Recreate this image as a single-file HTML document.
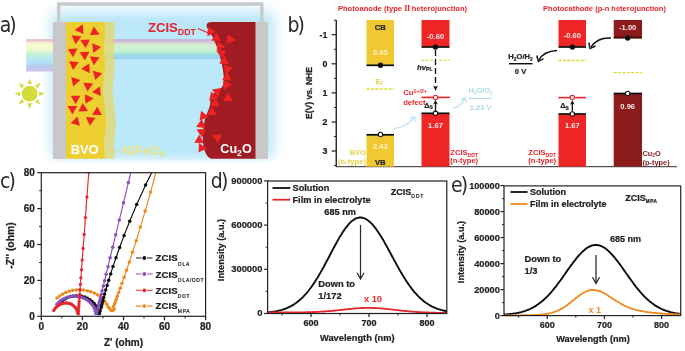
<!DOCTYPE html>
<html><head><meta charset="utf-8"><title>Figure</title>
<style>
html,body{margin:0;padding:0;background:#fff;}
body{width:685px;height:351px;overflow:hidden;}
svg{display:block;font-family:"Liberation Sans", "DejaVu Sans", sans-serif;}
.b{font-weight:bold;}
text[fill="#222"]{stroke:#222;stroke-width:0.22px;}
.lbl{font-family:"DejaVu Sans Condensed","DejaVu Sans","Liberation Sans",sans-serif;font-stretch:condensed;font-size:21px;fill:#2a2a2a;}
</style></head><body>
<svg width="685" height="351" viewBox="0 0 685 351">
<defs>
<linearGradient id="rain" x1="0" y1="0" x2="0" y2="1">
<stop offset="0" stop-color="#e8b4c4"/><stop offset="0.05" stop-color="#eec4c8"/>
<stop offset="0.1" stop-color="#f4ecd4"/><stop offset="0.2" stop-color="#f4fcd2"/>
<stop offset="0.33" stop-color="#eef8ce"/><stop offset="0.44" stop-color="#c8f0d2"/>
<stop offset="0.56" stop-color="#baecea"/><stop offset="0.68" stop-color="#b6e4f4"/>
<stop offset="0.83" stop-color="#b8ccf0"/><stop offset="1" stop-color="#cec2ec"/></linearGradient>
<linearGradient id="rain2" x1="0" y1="0" x2="0" y2="1">
<stop offset="0" stop-color="#c8b2d6"/><stop offset="0.1" stop-color="#ceb8d8"/>
<stop offset="0.25" stop-color="#d6e8d4"/><stop offset="0.36" stop-color="#d2f0d0"/>
<stop offset="0.6" stop-color="#c4eed2"/><stop offset="0.73" stop-color="#9ee4dc"/>
<stop offset="0.86" stop-color="#9ad6ee"/><stop offset="0.97" stop-color="#9ed4f2"/>
<stop offset="1" stop-color="#acdef6"/></linearGradient>
<linearGradient id="fadeW" x1="0" y1="0" x2="0" y2="1"><stop offset="0" stop-color="#fff" stop-opacity="0"/><stop offset="0.35" stop-color="#fff" stop-opacity="1"/><stop offset="1" stop-color="#fff" stop-opacity="1"/></linearGradient>
<filter id="glow" x="-20%" y="-20%" width="140%" height="140%"><feGaussianBlur stdDeviation="7"/></filter>
<filter id="glow2" x="-20%" y="-20%" width="140%" height="140%"><feGaussianBlur stdDeviation="6"/></filter>
<filter id="soft"><feGaussianBlur stdDeviation="0.4"/></filter>
<marker id="ahk" viewBox="0 0 10 10" refX="5" refY="5" markerUnits="userSpaceOnUse" markerWidth="4.6" markerHeight="4.6" orient="auto-start-reverse"><path d="M0,0 L10,5 L0,10 L3,5 z" fill="#111"/></marker>
</defs>
<rect width="685" height="351" fill="#fff"/>
<g filter="url(#soft)">

<g id="pa">
<rect x="51.5" y="11" width="222.5" height="148" rx="8" fill="#b8e6f8" filter="url(#glow)"/>
<rect x="60" y="30" width="202" height="124" fill="#bce9fa" filter="url(#glow2)"/>
<rect x="28" y="158.3" width="266" height="18" fill="url(#fadeW)"/>
<path d="M58.7,23 V4 H261.8 V23" fill="none" stroke="#cacaca" stroke-width="3.3"/>
<rect x="26.2" y="39.2" width="28" height="32.3" fill="url(#rain)"/>
<rect x="105" y="39.1" width="118" height="20.3" fill="url(#rain2)"/>
<rect x="53" y="22" width="13.5" height="136.8" fill="#c8c8c8"/>
<path d="M66,22 H104.7 C106.7,35 102.7,45 104.7,58 C106.7,72 101.7,85 103.7,98 C105.7,112 107.7,125 104.7,138 C103.7,146 105.7,152 104.7,158.8 H66 Z" fill="#eecf30"/>
<path d="M104.7,22 H114.2 C116.2,35 112.2,45 114.2,58 C116.2,72 111.2,85 113.2,98 C115.2,112 117.2,125 114.2,138 C113.2,146 115.2,152 114.2,158.8 H104.7 C105.7,152 103.7,146 104.7,138 C107.7,125 105.7,112 103.7,98 C101.7,85 106.7,72 104.7,58 C102.7,45 106.7,35 104.7,22 Z" fill="#e4d96c" fill-opacity="0.78"/>
<rect x="254" y="22" width="14" height="136.8" fill="#c8c8c8"/>
<path d="M255.5,22 H212 Q205.5,22 206.8,27 L212.6,37 L217,47 C219,52 221,60 222.6,68 C223.5,74 224.5,80 223.5,84 C222,89 217,91 213,94 C210,98 211,102 209.5,107 C208,112 204.8,117 204.2,123 C203.2,128 202.6,133 202.7,137 C203,143 203.6,150 206.7,155 C208.5,157.6 210,158.8 212,158.8 H255.5 Z" fill="#a01f20"/>
<polygon points="74.7,29.9 82.7,24.3 83.5,34.0" fill="#ee2222"/>
<polygon points="93.9,26.5 99.5,34.5 89.8,35.3" fill="#ee2222"/>
<polygon points="75.5,44.3 71.7,35.3 81.4,36.5" fill="#ee2222"/>
<polygon points="85.7,48.1 80.3,40.0 89.9,39.4" fill="#ee2222"/>
<polygon points="101.1,47.1 93.3,53.0 92.1,43.3" fill="#ee2222"/>
<polygon points="73.0,57.2 67.9,49.0 77.5,48.6" fill="#ee2222"/>
<polygon points="84.9,60.4 79.6,52.3 89.3,51.8" fill="#ee2222"/>
<polygon points="93.9,65.2 89.8,56.4 99.5,57.2" fill="#ee2222"/>
<polygon points="73.1,70.1 69.0,61.3 78.7,62.1" fill="#ee2222"/>
<polygon points="81.1,68.7 89.3,63.6 89.7,73.2" fill="#ee2222"/>
<polygon points="95.4,80.1 92.8,70.7 102.2,73.3" fill="#ee2222"/>
<polygon points="80.4,79.9 73.2,86.4 71.2,76.9" fill="#ee2222"/>
<polygon points="87.5,91.6 83.4,82.8 93.1,83.6" fill="#ee2222"/>
<polygon points="92.0,92.0 100.0,86.4 100.8,96.1" fill="#ee2222"/>
<polygon points="75.6,104.2 70.8,95.8 80.4,95.8" fill="#ee2222"/>
<polygon points="93.6,98.4 85.5,103.8 84.9,94.2" fill="#ee2222"/>
<polygon points="72.4,114.4 67.6,106.0 77.2,106.0" fill="#ee2222"/>
<polygon points="82.6,102.9 88.0,111.0 78.4,111.6" fill="#ee2222"/>
<polygon points="97.1,106.6 101.9,115.0 92.3,115.0" fill="#ee2222"/>
<polygon points="70.6,123.2 77.5,116.4 79.9,125.8" fill="#ee2222"/>
<polygon points="89.9,125.8 85.8,117.0 95.5,117.8" fill="#ee2222"/>
<polygon points="216.0,31.9 207.4,36.3 207.9,26.6" fill="#ee2222"/>
<polygon points="216.7,32.4 220.9,41.1 211.3,40.5" fill="#ee2222"/>
<polygon points="235.6,40.0 226.8,44.1 227.6,34.4" fill="#ee2222"/>
<polygon points="225.4,47.1 216.5,50.7 217.8,41.1" fill="#ee2222"/>
<polygon points="222.4,58.5 216.3,51.0 225.9,49.5" fill="#ee2222"/>
<polygon points="224.8,55.7 228.7,64.6 219.1,63.6" fill="#ee2222"/>
<polygon points="232.9,67.8 225.7,74.3 223.7,64.8" fill="#ee2222"/>
<polygon points="227.2,71.9 231.7,80.5 222.1,80.1" fill="#ee2222"/>
<polygon points="231.8,84.3 223.8,89.9 223.0,80.2" fill="#ee2222"/>
<polygon points="218.1,97.0 211.8,89.6 221.4,87.9" fill="#ee2222"/>
<polygon points="228.2,92.6 232.7,101.2 223.1,100.8" fill="#ee2222"/>
<polygon points="218.3,98.0 209.1,101.0 211.1,91.5" fill="#ee2222"/>
<polygon points="215.5,97.9 219.6,106.7 209.9,105.9" fill="#ee2222"/>
<polygon points="212.3,106.7 216.7,115.3 207.0,114.8" fill="#ee2222"/>
<polygon points="208.6,116.9 199.6,120.4 201.1,110.8" fill="#ee2222"/>
<polygon points="201.7,119.1 205.8,127.9 196.1,127.1" fill="#ee2222"/>
<polygon points="202.0,137.5 196.4,129.5 206.1,128.7" fill="#ee2222"/>
<polygon points="199.4,134.6 203.9,143.2 194.3,142.8" fill="#ee2222"/>
<polygon points="207.1,148.2 198.5,152.6 199.0,142.9" fill="#ee2222"/>
<polygon points="218.0,143.1 212.3,135.2 221.9,134.2" fill="#ee2222"/>
<circle cx="29.6" cy="93.7" r="7.9" fill="#d4dc3e"/>
<polygon points="39.2,96.0 39.2,91.4 44.8,93.7" fill="#d4dc3e"/>
<polygon points="34.8,102.1 38.0,98.9 40.3,104.4" fill="#d4dc3e"/>
<polygon points="27.3,103.3 31.9,103.3 29.6,108.9" fill="#d4dc3e"/>
<polygon points="21.2,98.9 24.4,102.1 18.9,104.4" fill="#d4dc3e"/>
<polygon points="20.0,91.4 20.0,96.0 14.4,93.7" fill="#d4dc3e"/>
<polygon points="24.4,85.3 21.2,88.5 18.9,83.0" fill="#d4dc3e"/>
<polygon points="31.9,84.1 27.3,84.1 29.6,78.5" fill="#d4dc3e"/>
<polygon points="38.0,88.5 34.8,85.3 40.3,83.0" fill="#d4dc3e"/>
<text x="148" y="32.2" class="b" font-size="13.1" fill="#e8202a">ZCIS<tspan font-size="8.8" dy="2.6">DDT</tspan></text>
<path d="M198,28.6 L208.5,33" stroke="#e8202a" stroke-width="1.1" fill="none"/>
<text x="70.7" y="154.2" class="b" font-size="12.9" fill="#fff">BVO</text>
<text x="121.9" y="154.6" class="b" font-size="12.8" fill="#eae086">NiFeO<tspan font-size="8.8" dy="2.6">X</tspan></text>
<path d="M109.8,154 L120.5,150.5" stroke="#d6dc8c" stroke-width="1.1" fill="none"/>
<text x="220.3" y="153" class="b" font-size="12.6" fill="#fff">Cu<tspan font-size="8.6" dy="2.6">2</tspan><tspan dy="-2.6">O</tspan></text>
<text x="-0.3" y="31.8" class="lbl" letter-spacing="-2">a)</text>
</g>
<g id="pb">
<text x="287.5" y="32" class="lbl" letter-spacing="-2">b)</text>
<path d="M336.3,20 V166.6 H677" fill="none" stroke="#555" stroke-width="1.1"/>
<path d="M336.3,20 V166.6" fill="none" stroke="#222" stroke-width="1.2"/>
<path d="M331.6,34.7 H336.3" stroke="#222" stroke-width="1.2"/>
<text x="327.4" y="37.6" text-anchor="end" class="b" font-size="8.8" fill="#222">-1</text>
<path d="M331.6,63.8 H336.3" stroke="#222" stroke-width="1.2"/>
<text x="327.4" y="66.7" text-anchor="end" class="b" font-size="8.8" fill="#222">0</text>
<path d="M331.6,92.9 H336.3" stroke="#222" stroke-width="1.2"/>
<text x="327.4" y="95.8" text-anchor="end" class="b" font-size="8.8" fill="#222">1</text>
<path d="M331.6,122.0 H336.3" stroke="#222" stroke-width="1.2"/>
<text x="327.4" y="124.9" text-anchor="end" class="b" font-size="8.8" fill="#222">2</text>
<path d="M331.6,151.0 H336.3" stroke="#222" stroke-width="1.2"/>
<text x="327.4" y="153.9" text-anchor="end" class="b" font-size="8.8" fill="#222">3</text>
<path d="M333.9,20.2 H336.3" stroke="#222" stroke-width="1"/>
<path d="M333.9,49.3 H336.3" stroke="#222" stroke-width="1"/>
<path d="M333.9,78.3 H336.3" stroke="#222" stroke-width="1"/>
<path d="M333.9,107.4 H336.3" stroke="#222" stroke-width="1"/>
<path d="M333.9,136.5 H336.3" stroke="#222" stroke-width="1"/>
<path d="M333.9,165.6 H336.3" stroke="#222" stroke-width="1"/>
<text transform="translate(312.3,93) rotate(-90)" text-anchor="middle" class="b" font-size="8.6" fill="#222" stroke="#222" stroke-width="0.2">E(V) vs. NHE</text>
<text x="402.5" y="10.6" text-anchor="middle" class="b" font-size="7.6" fill="#e3262c">Photoanode (type <tspan font-family="Liberation Serif,serif" font-size="8.2" letter-spacing="-0.4">II</tspan> heterojunction)</text>
<text x="604.5" y="10.6" text-anchor="middle" class="b" font-size="7.5" fill="#e3262c">Photocathode (p-n heterojunction)</text>
<rect x="366.5" y="20" width="27.5" height="45" fill="#f0c930"/>
<rect x="366.5" y="135" width="27.5" height="31.599999999999994" fill="#f0c930"/>
<path d="M366.5,65.3 H394" stroke="#111" stroke-width="1.7"/>
<circle cx="380.5" cy="65.3" r="2.7" fill="#111"/>
<path d="M366.5,134.8 H394" stroke="#111" stroke-width="1.7"/>
<circle cx="380.5" cy="134.5" r="2.2" fill="#fff" stroke="#111" stroke-width="1.1"/>
<text x="380.3" y="29.8" text-anchor="middle" class="b" font-size="7.6" fill="#222">CB</text>
<text x="380.3" y="54.8" text-anchor="middle" class="b" font-size="7.6" fill="#fbf3c8">0.05</text>
<text x="380.3" y="149" text-anchor="middle" class="b" font-size="7.6" fill="#fbf3c8">2.43</text>
<text x="380.3" y="164.5" text-anchor="middle" class="b" font-size="7.6" fill="#222">VB</text>
<text x="379" y="83.6" text-anchor="middle" class="b" font-size="7.4" fill="#e4cb3c">E<tspan font-size="5" dy="1.5">f</tspan></text>
<path d="M366.5,89 H394" stroke="#dcdc34" stroke-width="1.3" stroke-dasharray="3,1.4"/>
<text x="365.6" y="154.5" text-anchor="end" class="b" font-size="7.3" fill="#e8d244">BVO</text>
<text x="366" y="163.6" text-anchor="end" class="b" font-size="7.7" fill="#e8d244">(n-type)</text>
<rect x="421.5" y="20" width="28" height="27" fill="#ee2828"/>
<rect x="421.5" y="113.3" width="28" height="53.3" fill="#ee2828"/>
<path d="M421.5,47 H449.5" stroke="#111" stroke-width="1.7"/>
<circle cx="435.5" cy="47" r="2.7" fill="#111"/>
<text x="435.5" y="38.5" text-anchor="middle" class="b" font-size="7.6" fill="#fde8e8">-0.60</text>
<path d="M421.5,60.4 H449.5" stroke="#dcdc34" stroke-width="1.3" stroke-dasharray="3,1.4"/>
<rect x="433" y="57" width="5" height="6" fill="#fff"/>
<path d="M435.5,50 V86" stroke="#111" stroke-width="1.3" stroke-dasharray="6,3"/><path d="M433.2,85.6 L435.5,91 L437.8,85.6 L435.5,86.8 Z" fill="#111"/>
<text x="417" y="69.6" class="b" font-size="7.8" fill="#222" font-style="italic">hv<tspan font-size="5" dy="1.5" font-style="normal">PL</tspan></text>
<path d="M421.5,97.4 H450" stroke="#e3262c" stroke-width="1.6"/>
<circle cx="435.5" cy="97.4" r="2.2" fill="#fff" stroke="#e3262c" stroke-width="1.1"/>
<text x="403.2" y="95.3" class="b" font-size="7.8" fill="#e3262c">Cu<tspan font-size="5.2" dy="-2.6">1+/2+</tspan></text>
<text x="403.2" y="105" class="b" font-size="7.6" fill="#e3262c">defect</text>
<text x="424.3" y="107.8" class="b" font-size="7.4" fill="#222">Δ<tspan font-size="5" dy="1.5">S</tspan></text>
<path d="M435.5,111 V102.3" stroke="#111" stroke-width="1.3" marker-end="url(#ahk)"/>
<path d="M421.5,113.3 H449.5" stroke="#111" stroke-width="1.7"/>
<circle cx="435.5" cy="113.3" r="2.2" fill="#fff" stroke="#111" stroke-width="1.1"/>
<text x="435.5" y="127.8" text-anchor="middle" class="b" font-size="7.6" fill="#fde8e8">1.67</text>
<text x="450.3" y="155" class="b" font-size="7.6" fill="#e3262c">ZCIS<tspan font-size="5" dy="1.5">DDT</tspan></text>
<text x="450.3" y="163.4" class="b" font-size="7.6" fill="#e3262c">(n-type)</text>
<path d="M393.5,128.5 C401,128 408.5,124.5 413.6,118" stroke="#b9dff0" stroke-width="1.2" fill="none"/>
<path d="M409.6,118.8 L414.4,116.6 L415.2,121.8" stroke="#b9dff0" stroke-width="1.2" fill="none"/>
<path d="M452.8,108 C458.5,107.3 462.5,103.5 464.3,99" stroke="#b9dff0" stroke-width="1.2" fill="none"/>
<path d="M460.5,100.6 L465,97.4 L466.6,102.6" stroke="#b9dff0" stroke-width="1.2" fill="none"/>
<text x="480.7" y="93" text-anchor="middle" class="b" font-size="7.5" fill="#b2d8ea">H<tspan font-size="4.6" dy="1.5">2</tspan><tspan dy="-1.5">O/O</tspan><tspan font-size="4.6" dy="1.5">2</tspan></text>
<path d="M468.6,98.4 H491.6" stroke="#b2d8ea" stroke-width="1.2"/>
<text x="480.7" y="109.8" text-anchor="middle" class="b" font-size="7.5" fill="#b2d8ea">1.23 V</text>
<rect x="558.5" y="20" width="27.5" height="27" fill="#ee2828"/>
<rect x="558.5" y="114" width="27.5" height="52.599999999999994" fill="#ee2828"/>
<path d="M558.5,47 H586" stroke="#111" stroke-width="1.7"/>
<circle cx="572.4" cy="47" r="2.7" fill="#111"/>
<text x="572.3" y="37.8" text-anchor="middle" class="b" font-size="7.6" fill="#fde8e8">-0.60</text>
<path d="M558.5,60.5 H586" stroke="#dcdc34" stroke-width="1.3" stroke-dasharray="3,1.4"/>
<path d="M558.5,97.6 H586" stroke="#e3262c" stroke-width="1.6"/>
<circle cx="572.3" cy="97.6" r="2.2" fill="#fff" stroke="#e3262c" stroke-width="1.1"/>
<text x="560.3" y="108" class="b" font-size="7.4" fill="#222">Δ<tspan font-size="5" dy="1.5">S</tspan></text>
<path d="M572.3,111.5 V102.5" stroke="#111" stroke-width="1.3" marker-end="url(#ahk)"/>
<path d="M558.5,114 H586" stroke="#111" stroke-width="1.7"/>
<circle cx="572.3" cy="114" r="2.2" fill="#fff" stroke="#111" stroke-width="1.1"/>
<text x="572.3" y="127.5" text-anchor="middle" class="b" font-size="7.6" fill="#fde8e8">1.67</text>
<text x="528.3" y="155" class="b" font-size="7.6" fill="#e3262c">ZCIS<tspan font-size="5" dy="1.5">DDT</tspan></text>
<text x="528.3" y="163.4" class="b" font-size="7.6" fill="#e3262c">(n-type)</text>
<text x="520.5" y="59" text-anchor="middle" class="b" font-size="7.6" fill="#222">H<tspan font-size="4.8" dy="1.5">2</tspan><tspan dy="-1.5">O/H</tspan><tspan font-size="4.8" dy="1.5">2</tspan></text>
<path d="M509,63.7 H532.5" stroke="#111" stroke-width="1.4"/>
<text x="520.5" y="74" text-anchor="middle" class="b" font-size="7.6" fill="#222">0 V</text>
<path d="M557,50.5 C548,51 542,54 539,60" stroke="#111" stroke-width="1.4" fill="none"/>
<path d="M536.8,55.5 L538.3,61.5 L543.5,58.6" stroke="#111" stroke-width="1.4" fill="none"/>
<path d="M611,38 C602,37.5 595,41 591,47" stroke="#111" stroke-width="1.4" fill="none"/>
<path d="M588.8,42.5 L590,48.6 L595.5,46" stroke="#111" stroke-width="1.4" fill="none"/>
<rect x="613.7" y="20" width="28.3" height="17.5" fill="#8c1a1a"/>
<rect x="613.7" y="93.5" width="28.3" height="73.1" fill="#8c1a1a"/>
<path d="M613.7,37.7 H642" stroke="#3a0808" stroke-width="1.7"/>
<circle cx="627.7" cy="38" r="2.7" fill="#111"/>
<text x="627.7" y="30" text-anchor="middle" class="b" font-size="7.6" fill="#fde8e8">-1.00</text>
<path d="M613.7,72.6 H642" stroke="#dcdc34" stroke-width="1.3" stroke-dasharray="3,1.4"/>
<path d="M613.7,93.5 H642" stroke="#111" stroke-width="1.7"/>
<circle cx="627.7" cy="93.5" r="2.2" fill="#fff" stroke="#111" stroke-width="1.1"/>
<text x="627.7" y="108.5" text-anchor="middle" class="b" font-size="7.6" fill="#fde8e8">0.96</text>
<text x="642.5" y="155.5" class="b" font-size="7.4" fill="#8c1a1a">Cu<tspan font-size="4.8" dy="1.5">2</tspan><tspan dy="-1.5">O</tspan></text>
<text x="642.5" y="164.6" class="b" font-size="7.4" fill="#8c1a1a">(p-type)</text>
</g>
<g id="pc">
<text x="0" y="187.8" class="lbl" letter-spacing="-1.8">c)</text>
<clipPath id="clipc"><rect x="41.3" y="172.7" width="164.3" height="143.60000000000002"/></clipPath>
<g clip-path="url(#clipc)">
<path d="M56.9,298.0 L59.6,295.9 L62.6,294.0 L65.8,292.4 L69.2,291.2 L72.7,290.3 L76.4,289.9 L80.1,289.7 L83.7,290.0 L87.4,290.7 L90.8,291.7 L94.2,293.0 L97.3,294.7 L100.2,296.7 L102.7,299.0 L104.9,301.6 L106.8,304.3 L108.3,307.2 L109.7,308.6 L111.1,310.4 L112.8,310.6 L114.2,309.1 L113.4,306.8 L114.5,304.1 L115.3,301.9 L116.2,299.3 L117.3,296.2 L118.7,292.6 L120.2,288.3 L122.0,283.3 L124.1,277.3 L126.5,270.3 L129.3,262.0 L132.5,252.2 L136.2,240.7 L140.4,227.1 L145.2,211.0 L150.6,192.1 L156.6,169.7 L163.0,143.3" fill="none" stroke="#ee8a1e" stroke-width="1.15"/><circle cx="56.9" cy="298.0" r="1.75" fill="#ee8a1e"/><circle cx="59.6" cy="295.9" r="1.75" fill="#ee8a1e"/><circle cx="62.6" cy="294.0" r="1.75" fill="#ee8a1e"/><circle cx="65.8" cy="292.4" r="1.75" fill="#ee8a1e"/><circle cx="69.2" cy="291.2" r="1.75" fill="#ee8a1e"/><circle cx="72.7" cy="290.3" r="1.75" fill="#ee8a1e"/><circle cx="76.4" cy="289.9" r="1.75" fill="#ee8a1e"/><circle cx="80.1" cy="289.7" r="1.75" fill="#ee8a1e"/><circle cx="83.7" cy="290.0" r="1.75" fill="#ee8a1e"/><circle cx="87.4" cy="290.7" r="1.75" fill="#ee8a1e"/><circle cx="90.8" cy="291.7" r="1.75" fill="#ee8a1e"/><circle cx="94.2" cy="293.0" r="1.75" fill="#ee8a1e"/><circle cx="97.3" cy="294.7" r="1.75" fill="#ee8a1e"/><circle cx="100.2" cy="296.7" r="1.75" fill="#ee8a1e"/><circle cx="102.7" cy="299.0" r="1.75" fill="#ee8a1e"/><circle cx="104.9" cy="301.6" r="1.75" fill="#ee8a1e"/><circle cx="106.8" cy="304.3" r="1.75" fill="#ee8a1e"/><circle cx="108.3" cy="307.2" r="1.75" fill="#ee8a1e"/><circle cx="109.7" cy="308.6" r="1.75" fill="#ee8a1e"/><circle cx="111.1" cy="310.4" r="1.75" fill="#ee8a1e"/><circle cx="112.8" cy="310.6" r="1.75" fill="#ee8a1e"/><circle cx="114.2" cy="309.1" r="1.75" fill="#ee8a1e"/><circle cx="113.4" cy="306.8" r="1.75" fill="#ee8a1e"/><circle cx="114.5" cy="304.1" r="1.75" fill="#ee8a1e"/><circle cx="115.3" cy="301.9" r="1.75" fill="#ee8a1e"/><circle cx="116.2" cy="299.3" r="1.75" fill="#ee8a1e"/><circle cx="117.3" cy="296.2" r="1.75" fill="#ee8a1e"/><circle cx="118.7" cy="292.6" r="1.75" fill="#ee8a1e"/><circle cx="120.2" cy="288.3" r="1.75" fill="#ee8a1e"/><circle cx="122.0" cy="283.3" r="1.75" fill="#ee8a1e"/><circle cx="124.1" cy="277.3" r="1.75" fill="#ee8a1e"/><circle cx="126.5" cy="270.3" r="1.75" fill="#ee8a1e"/><circle cx="129.3" cy="262.0" r="1.75" fill="#ee8a1e"/><circle cx="132.5" cy="252.2" r="1.75" fill="#ee8a1e"/><circle cx="136.2" cy="240.7" r="1.75" fill="#ee8a1e"/><circle cx="140.4" cy="227.1" r="1.75" fill="#ee8a1e"/><circle cx="145.2" cy="211.0" r="1.75" fill="#ee8a1e"/><circle cx="150.6" cy="192.1" r="1.75" fill="#ee8a1e"/><circle cx="156.6" cy="169.7" r="1.75" fill="#ee8a1e"/><circle cx="163.0" cy="143.3" r="1.75" fill="#ee8a1e"/>
<path d="M58.8,304.6 L60.6,302.4 L62.7,300.5 L65.1,298.9 L67.6,297.6 L70.4,296.6 L73.2,295.9 L76.1,295.7 L79.0,295.8 L81.9,296.2 L84.7,297.0 L87.4,298.2 L89.9,299.7 L92.1,301.4 L94.1,303.5 L95.7,305.7 L97.0,308.2 L98.0,310.8 L98.6,313.5 L99.5,313.6 L100.1,310.9 L100.9,308.0 L101.3,306.4 L101.8,304.6 L102.3,302.6 L102.9,300.2 L103.7,297.4 L104.6,294.0 L105.7,290.1 L107.1,285.6 L108.7,280.2 L110.7,273.9 L113.0,266.4 L116.0,257.7 L119.6,247.5 L124.1,235.4 L129.7,221.3 L136.7,204.6 L145.6,185.1 L156.9,162.1" fill="none" stroke="#111" stroke-width="1.15"/><circle cx="58.8" cy="304.6" r="1.75" fill="#111"/><circle cx="60.6" cy="302.4" r="1.75" fill="#111"/><circle cx="62.7" cy="300.5" r="1.75" fill="#111"/><circle cx="65.1" cy="298.9" r="1.75" fill="#111"/><circle cx="67.6" cy="297.6" r="1.75" fill="#111"/><circle cx="70.4" cy="296.6" r="1.75" fill="#111"/><circle cx="73.2" cy="295.9" r="1.75" fill="#111"/><circle cx="76.1" cy="295.7" r="1.75" fill="#111"/><circle cx="79.0" cy="295.8" r="1.75" fill="#111"/><circle cx="81.9" cy="296.2" r="1.75" fill="#111"/><circle cx="84.7" cy="297.0" r="1.75" fill="#111"/><circle cx="87.4" cy="298.2" r="1.75" fill="#111"/><circle cx="89.9" cy="299.7" r="1.75" fill="#111"/><circle cx="92.1" cy="301.4" r="1.75" fill="#111"/><circle cx="94.1" cy="303.5" r="1.75" fill="#111"/><circle cx="95.7" cy="305.7" r="1.75" fill="#111"/><circle cx="97.0" cy="308.2" r="1.75" fill="#111"/><circle cx="98.0" cy="310.8" r="1.75" fill="#111"/><circle cx="98.6" cy="313.5" r="1.75" fill="#111"/><circle cx="99.5" cy="313.6" r="1.75" fill="#111"/><circle cx="100.1" cy="310.9" r="1.75" fill="#111"/><circle cx="100.9" cy="308.0" r="1.75" fill="#111"/><circle cx="101.3" cy="306.4" r="1.75" fill="#111"/><circle cx="101.8" cy="304.6" r="1.75" fill="#111"/><circle cx="102.3" cy="302.6" r="1.75" fill="#111"/><circle cx="102.9" cy="300.2" r="1.75" fill="#111"/><circle cx="103.7" cy="297.4" r="1.75" fill="#111"/><circle cx="104.6" cy="294.0" r="1.75" fill="#111"/><circle cx="105.7" cy="290.1" r="1.75" fill="#111"/><circle cx="107.1" cy="285.6" r="1.75" fill="#111"/><circle cx="108.7" cy="280.2" r="1.75" fill="#111"/><circle cx="110.7" cy="273.9" r="1.75" fill="#111"/><circle cx="113.0" cy="266.4" r="1.75" fill="#111"/><circle cx="116.0" cy="257.7" r="1.75" fill="#111"/><circle cx="119.6" cy="247.5" r="1.75" fill="#111"/><circle cx="124.1" cy="235.4" r="1.75" fill="#111"/><circle cx="129.7" cy="221.3" r="1.75" fill="#111"/><circle cx="136.7" cy="204.6" r="1.75" fill="#111"/><circle cx="145.6" cy="185.1" r="1.75" fill="#111"/><circle cx="156.9" cy="162.1" r="1.75" fill="#111"/>
<path d="M56.9,304.3 L58.6,302.5 L60.4,300.8 L62.5,299.4 L64.7,298.3 L67.1,297.3 L69.6,296.7 L72.1,296.3 L74.7,296.2 L77.3,296.4 L79.8,296.8 L82.2,297.6 L84.6,298.5 L86.8,299.8 L88.8,301.2 L90.6,302.9 L92.2,304.8 L93.6,306.8 L94.6,309.0 L95.4,311.2 L95.9,313.5 L96.6,313.6 L97.2,310.9 L97.9,308.0 L98.6,305.1 L99.1,303.1 L99.7,300.7 L100.4,297.9 L101.2,294.6 L102.1,290.7 L103.3,286.1 L104.6,280.7 L106.1,274.3 L108.0,266.7 L110.1,257.8 L112.7,247.2 L115.7,234.8 L119.3,220.1 L123.5,202.8 L128.4,182.4 L134.3,158.3" fill="none" stroke="#8a4fc0" stroke-width="1.15"/><circle cx="56.9" cy="304.3" r="1.75" fill="#8a4fc0"/><circle cx="58.6" cy="302.5" r="1.75" fill="#8a4fc0"/><circle cx="60.4" cy="300.8" r="1.75" fill="#8a4fc0"/><circle cx="62.5" cy="299.4" r="1.75" fill="#8a4fc0"/><circle cx="64.7" cy="298.3" r="1.75" fill="#8a4fc0"/><circle cx="67.1" cy="297.3" r="1.75" fill="#8a4fc0"/><circle cx="69.6" cy="296.7" r="1.75" fill="#8a4fc0"/><circle cx="72.1" cy="296.3" r="1.75" fill="#8a4fc0"/><circle cx="74.7" cy="296.2" r="1.75" fill="#8a4fc0"/><circle cx="77.3" cy="296.4" r="1.75" fill="#8a4fc0"/><circle cx="79.8" cy="296.8" r="1.75" fill="#8a4fc0"/><circle cx="82.2" cy="297.6" r="1.75" fill="#8a4fc0"/><circle cx="84.6" cy="298.5" r="1.75" fill="#8a4fc0"/><circle cx="86.8" cy="299.8" r="1.75" fill="#8a4fc0"/><circle cx="88.8" cy="301.2" r="1.75" fill="#8a4fc0"/><circle cx="90.6" cy="302.9" r="1.75" fill="#8a4fc0"/><circle cx="92.2" cy="304.8" r="1.75" fill="#8a4fc0"/><circle cx="93.6" cy="306.8" r="1.75" fill="#8a4fc0"/><circle cx="94.6" cy="309.0" r="1.75" fill="#8a4fc0"/><circle cx="95.4" cy="311.2" r="1.75" fill="#8a4fc0"/><circle cx="95.9" cy="313.5" r="1.75" fill="#8a4fc0"/><circle cx="96.6" cy="313.6" r="1.75" fill="#8a4fc0"/><circle cx="97.2" cy="310.9" r="1.75" fill="#8a4fc0"/><circle cx="97.9" cy="308.0" r="1.75" fill="#8a4fc0"/><circle cx="98.6" cy="305.1" r="1.75" fill="#8a4fc0"/><circle cx="99.1" cy="303.1" r="1.75" fill="#8a4fc0"/><circle cx="99.7" cy="300.7" r="1.75" fill="#8a4fc0"/><circle cx="100.4" cy="297.9" r="1.75" fill="#8a4fc0"/><circle cx="101.2" cy="294.6" r="1.75" fill="#8a4fc0"/><circle cx="102.1" cy="290.7" r="1.75" fill="#8a4fc0"/><circle cx="103.3" cy="286.1" r="1.75" fill="#8a4fc0"/><circle cx="104.6" cy="280.7" r="1.75" fill="#8a4fc0"/><circle cx="106.1" cy="274.3" r="1.75" fill="#8a4fc0"/><circle cx="108.0" cy="266.7" r="1.75" fill="#8a4fc0"/><circle cx="110.1" cy="257.8" r="1.75" fill="#8a4fc0"/><circle cx="112.7" cy="247.2" r="1.75" fill="#8a4fc0"/><circle cx="115.7" cy="234.8" r="1.75" fill="#8a4fc0"/><circle cx="119.3" cy="220.1" r="1.75" fill="#8a4fc0"/><circle cx="123.5" cy="202.8" r="1.75" fill="#8a4fc0"/><circle cx="128.4" cy="182.4" r="1.75" fill="#8a4fc0"/><circle cx="134.3" cy="158.3" r="1.75" fill="#8a4fc0"/>
<path d="M53.8,310.4 L54.7,308.9 L55.9,307.5 L57.2,306.3 L58.6,305.2 L60.2,304.4 L61.9,303.7 L63.7,303.3 L65.5,303.0 L67.2,303.0 L68.7,303.3 L70.3,303.7 L71.7,304.4 L73.0,305.3 L74.3,306.4 L75.4,307.6 L76.3,309.0 L77.1,310.5 L77.7,312.2 L78.1,313.8 L78.3,313.6 L78.5,310.9 L78.7,308.2 L78.8,306.0 L79.0,303.8 L79.2,301.3 L79.4,298.1 L79.7,294.4 L80.0,289.8 L80.4,284.4 L80.9,277.8 L81.5,269.8 L82.2,260.1 L83.1,248.5 L84.2,234.5 L85.4,217.6 L86.9,197.1 L88.8,172.4 L91.0,142.7" fill="none" stroke="#e8262e" stroke-width="1.15"/><circle cx="53.8" cy="310.4" r="1.65" fill="#e8262e"/><circle cx="54.7" cy="308.9" r="1.65" fill="#e8262e"/><circle cx="55.9" cy="307.5" r="1.65" fill="#e8262e"/><circle cx="57.2" cy="306.3" r="1.65" fill="#e8262e"/><circle cx="58.6" cy="305.2" r="1.65" fill="#e8262e"/><circle cx="60.2" cy="304.4" r="1.65" fill="#e8262e"/><circle cx="61.9" cy="303.7" r="1.65" fill="#e8262e"/><circle cx="63.7" cy="303.3" r="1.65" fill="#e8262e"/><circle cx="65.5" cy="303.0" r="1.65" fill="#e8262e"/><circle cx="67.2" cy="303.0" r="1.65" fill="#e8262e"/><circle cx="68.7" cy="303.3" r="1.65" fill="#e8262e"/><circle cx="70.3" cy="303.7" r="1.65" fill="#e8262e"/><circle cx="71.7" cy="304.4" r="1.65" fill="#e8262e"/><circle cx="73.0" cy="305.3" r="1.65" fill="#e8262e"/><circle cx="74.3" cy="306.4" r="1.65" fill="#e8262e"/><circle cx="75.4" cy="307.6" r="1.65" fill="#e8262e"/><circle cx="76.3" cy="309.0" r="1.65" fill="#e8262e"/><circle cx="77.1" cy="310.5" r="1.65" fill="#e8262e"/><circle cx="77.7" cy="312.2" r="1.65" fill="#e8262e"/><circle cx="78.1" cy="313.8" r="1.65" fill="#e8262e"/><circle cx="78.3" cy="313.6" r="1.65" fill="#e8262e"/><circle cx="78.5" cy="310.9" r="1.65" fill="#e8262e"/><circle cx="78.7" cy="308.2" r="1.65" fill="#e8262e"/><circle cx="78.8" cy="306.0" r="1.65" fill="#e8262e"/><circle cx="79.0" cy="303.8" r="1.65" fill="#e8262e"/><circle cx="79.2" cy="301.3" r="1.65" fill="#e8262e"/><circle cx="79.4" cy="298.1" r="1.65" fill="#e8262e"/><circle cx="79.7" cy="294.4" r="1.65" fill="#e8262e"/><circle cx="80.0" cy="289.8" r="1.65" fill="#e8262e"/><circle cx="80.4" cy="284.4" r="1.65" fill="#e8262e"/><circle cx="80.9" cy="277.8" r="1.65" fill="#e8262e"/><circle cx="81.5" cy="269.8" r="1.65" fill="#e8262e"/><circle cx="82.2" cy="260.1" r="1.65" fill="#e8262e"/><circle cx="83.1" cy="248.5" r="1.65" fill="#e8262e"/><circle cx="84.2" cy="234.5" r="1.65" fill="#e8262e"/><circle cx="85.4" cy="217.6" r="1.65" fill="#e8262e"/><circle cx="86.9" cy="197.1" r="1.65" fill="#e8262e"/><circle cx="88.8" cy="172.4" r="1.65" fill="#e8262e"/><circle cx="91.0" cy="142.7" r="1.65" fill="#e8262e"/>
</g>
<rect x="41.3" y="172.7" width="164.3" height="143.60000000000002" fill="none" stroke="#222" stroke-width="1.2"/>
<path d="M37.3,316.3 H41.3" stroke="#222" stroke-width="1.2"/>
<text x="34.9" y="319.6" text-anchor="end" class="b" font-size="10" fill="#222">0</text>
<path d="M41.3,316.3 V320.3" stroke="#222" stroke-width="1.2"/>
<text x="41.3" y="329.6" text-anchor="middle" class="b" font-size="10" fill="#222">0</text>
<path d="M37.3,280.4 H41.3" stroke="#222" stroke-width="1.2"/>
<text x="34.9" y="283.7" text-anchor="end" class="b" font-size="10" fill="#222">20</text>
<path d="M82.4,316.3 V320.3" stroke="#222" stroke-width="1.2"/>
<text x="82.4" y="329.6" text-anchor="middle" class="b" font-size="10" fill="#222">20</text>
<path d="M37.3,244.5 H41.3" stroke="#222" stroke-width="1.2"/>
<text x="34.9" y="247.8" text-anchor="end" class="b" font-size="10" fill="#222">40</text>
<path d="M123.5,316.3 V320.3" stroke="#222" stroke-width="1.2"/>
<text x="123.5" y="329.6" text-anchor="middle" class="b" font-size="10" fill="#222">40</text>
<path d="M37.3,208.6 H41.3" stroke="#222" stroke-width="1.2"/>
<text x="34.9" y="211.9" text-anchor="end" class="b" font-size="10" fill="#222">60</text>
<path d="M164.5,316.3 V320.3" stroke="#222" stroke-width="1.2"/>
<text x="164.5" y="329.6" text-anchor="middle" class="b" font-size="10" fill="#222">60</text>
<path d="M37.3,172.7 H41.3" stroke="#222" stroke-width="1.2"/>
<text x="34.9" y="176.0" text-anchor="end" class="b" font-size="10" fill="#222">80</text>
<path d="M205.6,316.3 V320.3" stroke="#222" stroke-width="1.2"/>
<text x="205.6" y="329.6" text-anchor="middle" class="b" font-size="10" fill="#222">80</text>
<path d="M39.099999999999994,298.4 H41.3" stroke="#222" stroke-width="1"/>
<path d="M61.8,316.3 V318.5" stroke="#222" stroke-width="1"/>
<path d="M39.099999999999994,262.5 H41.3" stroke="#222" stroke-width="1"/>
<path d="M102.9,316.3 V318.5" stroke="#222" stroke-width="1"/>
<path d="M39.099999999999994,226.6 H41.3" stroke="#222" stroke-width="1"/>
<path d="M144.0,316.3 V318.5" stroke="#222" stroke-width="1"/>
<path d="M39.099999999999994,190.7 H41.3" stroke="#222" stroke-width="1"/>
<path d="M185.1,316.3 V318.5" stroke="#222" stroke-width="1"/>
<text x="123.5" y="346" text-anchor="middle" class="b" font-size="10" fill="#222">Z' (ohm)</text>
<text transform="translate(14.2,245.5) rotate(-90)" text-anchor="middle" class="b" font-size="10.4" fill="#222" stroke="#222" stroke-width="0.2">-Z'' (ohm)</text>
<path d="M136,258 H152.5" stroke="#111" stroke-width="1.1" stroke-dasharray="5.5,5.5"/><circle cx="144.3" cy="258" r="1.9" fill="#111"/>
<text x="155.6" y="261.4" class="b" font-size="9.6" fill="#222" letter-spacing="0.1">ZCIS<tspan font-size="4.9" dy="4.1" font-weight="normal" letter-spacing="0.75">OLA</tspan></text>
<path d="M136,274 H152.5" stroke="#8a4fc0" stroke-width="1.1" stroke-dasharray="5.5,5.5"/><circle cx="144.3" cy="274" r="1.9" fill="#8a4fc0"/>
<text x="155.6" y="277.7" class="b" font-size="9.6" fill="#222" letter-spacing="0.1">ZCIS<tspan font-size="4.9" dy="4.1" font-weight="normal" letter-spacing="0.75">OLA/DDT</tspan></text>
<path d="M136,290.3 H152.5" stroke="#e8262e" stroke-width="1.1" stroke-dasharray="5.5,5.5"/><circle cx="144.3" cy="290.3" r="1.9" fill="#e8262e"/>
<text x="155.6" y="293.9" class="b" font-size="9.6" fill="#222" letter-spacing="0.1">ZCIS<tspan font-size="4.9" dy="4.1" font-weight="normal" letter-spacing="0.75">DDT</tspan></text>
<path d="M136,306.1 H152.5" stroke="#ee8a1e" stroke-width="1.1" stroke-dasharray="5.5,5.5"/><circle cx="144.3" cy="306.1" r="1.9" fill="#ee8a1e"/>
<text x="155.6" y="309.29999999999995" class="b" font-size="9.6" fill="#222" letter-spacing="0.1">ZCIS<tspan font-size="4.9" dy="4.1" font-weight="normal" letter-spacing="0.75">MPA</tspan></text>
</g>
<g id="pd">
<text x="210.7" y="187.7" class="lbl" letter-spacing="-1.8">d)</text>
<clipPath id="clipd"><rect x="267.6" y="181.0" width="179.2" height="134.0"/></clipPath>
<g clip-path="url(#clipd)">
<path d="M264.6,312.6 L265.8,312.5 L266.9,312.4 L268.1,312.3 L269.2,312.2 L270.4,312.1 L271.6,311.9 L272.7,311.7 L273.9,311.6 L275.0,311.4 L276.2,311.2 L277.4,310.9 L278.5,310.7 L279.7,310.4 L280.8,310.1 L282.0,309.8 L283.2,309.4 L284.3,309.0 L285.5,308.6 L286.6,308.1 L287.8,307.7 L289.0,307.1 L290.1,306.6 L291.3,305.9 L292.4,305.3 L293.6,304.6 L294.8,303.8 L295.9,303.0 L297.1,302.2 L298.2,301.3 L299.4,300.3 L300.6,299.3 L301.7,298.2 L302.9,297.1 L304.0,295.9 L305.2,294.6 L306.4,293.3 L307.5,292.0 L308.7,290.5 L309.8,289.0 L311.0,287.5 L312.2,285.8 L313.3,284.2 L314.5,282.4 L315.6,280.6 L316.8,278.8 L318.0,276.9 L319.1,274.9 L320.3,272.9 L321.4,270.9 L322.6,268.8 L323.8,266.7 L324.9,264.5 L326.1,262.3 L327.2,260.2 L328.4,258.0 L329.6,255.7 L330.7,253.5 L331.9,251.3 L333.0,249.1 L334.2,247.0 L335.4,244.8 L336.5,242.7 L337.7,240.6 L338.8,238.6 L340.0,236.6 L341.2,234.7 L342.3,232.8 L343.5,231.1 L344.6,229.4 L345.8,227.8 L347.0,226.3 L348.1,224.9 L349.3,223.6 L350.4,222.4 L351.6,221.3 L352.8,220.4 L353.9,219.6 L355.1,218.9 L356.2,218.4 L357.4,217.9 L358.6,217.7 L359.7,217.5 L360.9,217.5 L362.0,217.7 L363.2,217.9 L364.4,218.3 L365.5,218.8 L366.7,219.5 L367.8,220.3 L369.0,221.2 L370.2,222.2 L371.3,223.3 L372.5,224.5 L373.6,225.9 L374.8,227.3 L376.0,228.8 L377.1,230.5 L378.3,232.2 L379.4,233.9 L380.6,235.8 L381.8,237.7 L382.9,239.6 L384.1,241.6 L385.2,243.7 L386.4,245.8 L387.6,247.9 L388.7,250.0 L389.9,252.2 L391.0,254.3 L392.2,256.5 L393.4,258.6 L394.5,260.8 L395.7,262.9 L396.8,265.0 L398.0,267.1 L399.2,269.2 L400.3,271.2 L401.5,273.2 L402.6,275.1 L403.8,277.0 L405.0,278.9 L406.1,280.7 L407.3,282.4 L408.4,284.1 L409.6,285.8 L410.8,287.4 L411.9,288.9 L413.1,290.4 L414.2,291.8 L415.4,293.1 L416.6,294.4 L417.7,295.7 L418.9,296.8 L420.0,298.0 L421.2,299.0 L422.4,300.0 L423.5,301.0 L424.7,301.9 L425.8,302.7 L427.0,303.5 L428.2,304.3 L429.3,305.0 L430.5,305.6 L431.6,306.3 L432.8,306.8 L434.0,307.4 L435.1,307.9 L436.3,308.3 L437.4,308.8 L438.6,309.2 L439.8,309.5 L440.9,309.9 L442.1,310.2 L443.2,310.5 L444.4,310.7 L445.6,311.0 L446.7,311.2 L447.9,311.4 L449.0,311.6 L450.2,311.8" fill="none" stroke="#111" stroke-width="1.9"/>
<path d="M264.6,312.3 L265.8,312.3 L266.9,312.3 L268.1,312.3 L269.2,312.3 L270.4,312.3 L271.6,312.4 L272.7,312.4 L273.9,312.4 L275.0,312.4 L276.2,312.4 L277.4,312.4 L278.5,312.4 L279.7,312.4 L280.8,312.4 L282.0,312.4 L283.2,312.4 L284.3,312.4 L285.5,312.4 L286.6,312.4 L287.8,312.4 L289.0,312.4 L290.1,312.4 L291.3,312.4 L292.4,312.4 L293.6,312.4 L294.8,312.4 L295.9,312.4 L297.1,312.4 L298.2,312.4 L299.4,312.3 L300.6,312.3 L301.7,312.3 L302.9,312.3 L304.0,312.3 L305.2,312.3 L306.4,312.2 L307.5,312.2 L308.7,312.2 L309.8,312.2 L311.0,312.1 L312.2,312.1 L313.3,312.0 L314.5,312.0 L315.6,312.0 L316.8,311.9 L318.0,311.8 L319.1,311.8 L320.3,311.7 L321.4,311.7 L322.6,311.6 L323.8,311.5 L324.9,311.4 L326.1,311.3 L327.2,311.2 L328.4,311.2 L329.6,311.1 L330.7,311.0 L331.9,310.8 L333.0,310.7 L334.2,310.6 L335.4,310.5 L336.5,310.4 L337.7,310.3 L338.8,310.2 L340.0,310.0 L341.2,309.9 L342.3,309.8 L343.5,309.6 L344.6,309.5 L345.8,309.4 L347.0,309.3 L348.1,309.1 L349.3,309.0 L350.4,308.9 L351.6,308.8 L352.8,308.7 L353.9,308.6 L355.1,308.5 L356.2,308.4 L357.4,308.3 L358.6,308.2 L359.7,308.2 L360.9,308.1 L362.0,308.0 L363.2,308.0 L364.4,307.9 L365.5,307.9 L366.7,307.9 L367.8,307.9 L369.0,307.9 L370.2,307.9 L371.3,307.9 L372.5,307.9 L373.6,308.0 L374.8,308.0 L376.0,308.1 L377.1,308.1 L378.3,308.2 L379.4,308.3 L380.6,308.4 L381.8,308.5 L382.9,308.6 L384.1,308.7 L385.2,308.8 L386.4,308.9 L387.6,309.0 L388.7,309.2 L389.9,309.3 L391.0,309.4 L392.2,309.5 L393.4,309.7 L394.5,309.8 L395.7,309.9 L396.8,310.1 L398.0,310.2 L399.2,310.3 L400.3,310.5 L401.5,310.6 L402.6,310.7 L403.8,310.9 L405.0,311.0 L406.1,311.1 L407.3,311.2 L408.4,311.3 L409.6,311.4 L410.8,311.5 L411.9,311.6 L413.1,311.7 L414.2,311.8 L415.4,311.9 L416.6,312.0 L417.7,312.0 L418.9,312.1 L420.0,312.2 L421.2,312.2 L422.4,312.3 L423.5,312.4 L424.7,312.4 L425.8,312.5 L427.0,312.5 L428.2,312.5 L429.3,312.6 L430.5,312.6 L431.6,312.7 L432.8,312.7 L434.0,312.7 L435.1,312.7 L436.3,312.8 L437.4,312.8 L438.6,312.8 L439.8,312.8 L440.9,312.8 L442.1,312.9 L443.2,312.9 L444.4,312.9 L445.6,312.9 L446.7,312.9 L447.9,312.9 L449.0,312.9 L450.2,312.9" fill="none" stroke="#e8262e" stroke-width="1.8"/>
</g>
<rect x="267.6" y="181.0" width="179.2" height="132.5" fill="none" stroke="#222" stroke-width="1.2"/>
<path d="M264.1,313.5 H267.6" stroke="#222" stroke-width="1.2"/>
<text x="262.4" y="316.4" text-anchor="end" class="b" font-size="9.3" fill="#222">0</text>
<path d="M264.1,269.3 H267.6" stroke="#222" stroke-width="1.2"/>
<text x="262.4" y="272.2" text-anchor="end" class="b" font-size="9.3" fill="#222">300000</text>
<path d="M264.1,225.1 H267.6" stroke="#222" stroke-width="1.2"/>
<text x="262.4" y="228.0" text-anchor="end" class="b" font-size="9.3" fill="#222">600000</text>
<path d="M264.1,180.9 H267.6" stroke="#222" stroke-width="1.2"/>
<text x="262.4" y="183.8" text-anchor="end" class="b" font-size="9.3" fill="#222">900000</text>
<path d="M265.6,291.4 H267.6" stroke="#222" stroke-width="1"/>
<path d="M265.6,247.2 H267.6" stroke="#222" stroke-width="1"/>
<path d="M265.6,203.0 H267.6" stroke="#222" stroke-width="1"/>
<path d="M311.0,313.5 V317.0" stroke="#222" stroke-width="1.2"/>
<text x="311.0" y="326" text-anchor="middle" class="b" font-size="9" fill="#222">600</text>
<path d="M369.0,313.5 V317.0" stroke="#222" stroke-width="1.2"/>
<text x="369.0" y="326" text-anchor="middle" class="b" font-size="9" fill="#222">700</text>
<path d="M427.0,313.5 V317.0" stroke="#222" stroke-width="1.2"/>
<text x="427.0" y="326" text-anchor="middle" class="b" font-size="9" fill="#222">800</text>
<path d="M282.0,313.5 V315.5" stroke="#222" stroke-width="1"/>
<path d="M340.0,313.5 V315.5" stroke="#222" stroke-width="1"/>
<path d="M398.0,313.5 V315.5" stroke="#222" stroke-width="1"/>
<text x="357.3" y="340.9" text-anchor="middle" class="b" font-size="9.3" fill="#222">Wavelength (nm)</text>
<text transform="translate(224.1,250) rotate(-90)" text-anchor="middle" class="b" font-size="9.2" fill="#222" stroke="#222" stroke-width="0.2">Intensity (a.u.)</text>
<path d="M272.5,188 H290.3" stroke="#111" stroke-width="1.8"/>
<text x="292.5" y="191.2" class="b" font-size="9.2" fill="#222">Solution</text>
<path d="M272.5,199.7 H290.3" stroke="#e8262e" stroke-width="1.8"/>
<text x="292.5" y="202.9" class="b" font-size="9.2" fill="#222">Film in electrolyte</text>
<text x="324.3" y="214.9" class="b" font-size="9.2" fill="#222">685 nm</text>
<text x="390.8" y="195.2" class="b" font-size="9" fill="#222">ZCIS<tspan font-size="5.2" dy="2.6" font-weight="normal" letter-spacing="0.7">DDT</tspan></text>
<path d="M360.5,225 V278" stroke="#2a2a2a" stroke-width="1.25"/><path d="M357,272.8 L360.5,279 L364,272.8" stroke="#2a2a2a" stroke-width="1.25" fill="none"/>
<text x="318.3" y="287" class="b" font-size="9.3" fill="#222">Down to</text>
<text x="318.3" y="298.9" class="b" font-size="9.3" fill="#222">1/172</text>
<text x="363.9" y="302.4" class="b" font-size="9.3" fill="#e8262e">x 10</text>
</g>
<g id="pe">
<text x="451" y="191.6" class="lbl" letter-spacing="-1.8">e)</text>
<clipPath id="clipe"><rect x="504" y="185.9" width="176.70000000000005" height="131.20000000000002"/></clipPath>
<g clip-path="url(#clipe)">
<path d="M501.4,314.7 L502.6,314.7 L503.7,314.6 L504.9,314.5 L506.0,314.4 L507.2,314.3 L508.3,314.2 L509.4,314.1 L510.6,314.0 L511.7,313.9 L512.9,313.7 L514.0,313.5 L515.2,313.4 L516.3,313.2 L517.5,312.9 L518.6,312.7 L519.7,312.4 L520.9,312.2 L522.0,311.9 L523.2,311.5 L524.3,311.2 L525.5,310.8 L526.6,310.4 L527.8,309.9 L528.9,309.5 L530.0,309.0 L531.2,308.4 L532.3,307.8 L533.5,307.2 L534.6,306.6 L535.8,305.9 L536.9,305.1 L538.0,304.3 L539.2,303.5 L540.3,302.6 L541.5,301.7 L542.6,300.8 L543.8,299.8 L544.9,298.7 L546.1,297.6 L547.2,296.5 L548.3,295.3 L549.5,294.1 L550.6,292.8 L551.8,291.5 L552.9,290.1 L554.1,288.7 L555.2,287.3 L556.4,285.8 L557.5,284.3 L558.6,282.8 L559.8,281.2 L560.9,279.7 L562.1,278.1 L563.2,276.4 L564.4,274.8 L565.5,273.2 L566.6,271.6 L567.8,269.9 L568.9,268.3 L570.1,266.7 L571.2,265.1 L572.4,263.6 L573.5,262.0 L574.7,260.6 L575.8,259.1 L576.9,257.7 L578.1,256.3 L579.2,255.0 L580.4,253.8 L581.5,252.6 L582.7,251.5 L583.8,250.4 L585.0,249.5 L586.1,248.6 L587.2,247.8 L588.4,247.1 L589.5,246.5 L590.7,246.0 L591.8,245.6 L593.0,245.3 L594.1,245.1 L595.2,245.0 L596.4,245.0 L597.5,245.1 L598.7,245.3 L599.8,245.6 L601.0,246.0 L602.1,246.5 L603.3,247.1 L604.4,247.8 L605.5,248.6 L606.7,249.5 L607.8,250.4 L609.0,251.5 L610.1,252.6 L611.3,253.8 L612.4,255.0 L613.6,256.3 L614.7,257.7 L615.8,259.1 L617.0,260.6 L618.1,262.0 L619.3,263.6 L620.4,265.1 L621.6,266.7 L622.7,268.3 L623.8,269.9 L625.0,271.6 L626.1,273.2 L627.3,274.8 L628.4,276.4 L629.6,278.1 L630.7,279.7 L631.9,281.2 L633.0,282.8 L634.1,284.3 L635.3,285.8 L636.4,287.3 L637.6,288.7 L638.7,290.1 L639.9,291.5 L641.0,292.8 L642.2,294.1 L643.3,295.3 L644.4,296.5 L645.6,297.6 L646.7,298.7 L647.9,299.8 L649.0,300.8 L650.2,301.7 L651.3,302.6 L652.4,303.5 L653.6,304.3 L654.7,305.1 L655.9,305.9 L657.0,306.6 L658.2,307.2 L659.3,307.8 L660.5,308.4 L661.6,309.0 L662.7,309.5 L663.9,309.9 L665.0,310.4 L666.2,310.8 L667.3,311.2 L668.5,311.5 L669.6,311.9 L670.8,312.2 L671.9,312.4 L673.0,312.7 L674.2,312.9 L675.3,313.2 L676.5,313.4 L677.6,313.5 L678.8,313.7 L679.9,313.9 L681.0,314.0 L682.2,314.1 L683.3,314.2 L684.5,314.3" fill="none" stroke="#111" stroke-width="1.9"/>
<path d="M501.4,315.3 L502.6,315.3 L503.7,315.3 L504.9,315.3 L506.0,315.3 L507.2,315.3 L508.3,315.3 L509.4,315.3 L510.6,315.3 L511.7,315.3 L512.9,315.3 L514.0,315.3 L515.2,315.3 L516.3,315.3 L517.5,315.3 L518.6,315.3 L519.7,315.3 L520.9,315.3 L522.0,315.2 L523.2,315.2 L524.3,315.2 L525.5,315.2 L526.6,315.2 L527.8,315.2 L528.9,315.2 L530.0,315.2 L531.2,315.1 L532.3,315.1 L533.5,315.1 L534.6,315.0 L535.8,315.0 L536.9,314.9 L538.0,314.9 L539.2,314.8 L540.3,314.7 L541.5,314.6 L542.6,314.5 L543.8,314.3 L544.9,314.2 L546.1,314.0 L547.2,313.8 L548.3,313.6 L549.5,313.3 L550.6,313.1 L551.8,312.8 L552.9,312.4 L554.1,312.0 L555.2,311.6 L556.4,311.2 L557.5,310.7 L558.6,310.2 L559.8,309.6 L560.9,309.0 L562.1,308.4 L563.2,307.7 L564.4,307.0 L565.5,306.2 L566.6,305.4 L567.8,304.6 L568.9,303.7 L570.1,302.8 L571.2,302.0 L572.4,301.0 L573.5,300.1 L574.7,299.2 L575.8,298.3 L576.9,297.4 L578.1,296.5 L579.2,295.7 L580.4,294.8 L581.5,294.1 L582.7,293.3 L583.8,292.7 L585.0,292.0 L586.1,291.5 L587.2,291.0 L588.4,290.6 L589.5,290.3 L590.7,290.1 L591.8,290.0 L593.0,289.9 L594.1,290.0 L595.2,290.1 L596.4,290.3 L597.5,290.5 L598.7,290.8 L599.8,291.2 L601.0,291.7 L602.1,292.2 L603.3,292.8 L604.4,293.4 L605.5,294.0 L606.7,294.7 L607.8,295.4 L609.0,296.2 L610.1,296.9 L611.3,297.7 L612.4,298.4 L613.6,299.2 L614.7,299.9 L615.8,300.7 L617.0,301.4 L618.1,302.1 L619.3,302.8 L620.4,303.5 L621.6,304.1 L622.7,304.8 L623.8,305.4 L625.0,305.9 L626.1,306.4 L627.3,306.9 L628.4,307.4 L629.6,307.9 L630.7,308.3 L631.9,308.7 L633.0,309.0 L634.1,309.4 L635.3,309.7 L636.4,310.0 L637.6,310.3 L638.7,310.5 L639.9,310.8 L641.0,311.0 L642.2,311.2 L643.3,311.4 L644.4,311.6 L645.6,311.8 L646.7,312.0 L647.9,312.1 L649.0,312.3 L650.2,312.4 L651.3,312.5 L652.4,312.7 L653.6,312.8 L654.7,312.9 L655.9,313.0 L657.0,313.1 L658.2,313.2 L659.3,313.3 L660.5,313.4 L661.6,313.5 L662.7,313.6 L663.9,313.7 L665.0,313.8 L666.2,313.8 L667.3,313.9 L668.5,314.0 L669.6,314.1 L670.8,314.1 L671.9,314.2 L673.0,314.2 L674.2,314.3 L675.3,314.4 L676.5,314.4 L677.6,314.5 L678.8,314.5 L679.9,314.6 L681.0,314.6 L682.2,314.6 L683.3,314.7 L684.5,314.7" fill="none" stroke="#ee8a1e" stroke-width="1.8"/>
</g>
<rect x="504" y="185.9" width="176.70000000000005" height="129.70000000000002" fill="none" stroke="#222" stroke-width="1.2"/>
<path d="M500.5,315.6 H504" stroke="#222" stroke-width="1.2"/>
<text x="499.8" y="318.5" text-anchor="end" class="b" font-size="9.2" fill="#222">0</text>
<path d="M500.5,289.6 H504" stroke="#222" stroke-width="1.2"/>
<text x="499.8" y="292.5" text-anchor="end" class="b" font-size="9.2" fill="#222">20000</text>
<path d="M500.5,263.6 H504" stroke="#222" stroke-width="1.2"/>
<text x="499.8" y="266.5" text-anchor="end" class="b" font-size="9.2" fill="#222">40000</text>
<path d="M500.5,237.6 H504" stroke="#222" stroke-width="1.2"/>
<text x="499.8" y="240.5" text-anchor="end" class="b" font-size="9.2" fill="#222">60000</text>
<path d="M500.5,211.6 H504" stroke="#222" stroke-width="1.2"/>
<text x="499.8" y="214.5" text-anchor="end" class="b" font-size="9.2" fill="#222">80000</text>
<path d="M500.5,185.6 H504" stroke="#222" stroke-width="1.2"/>
<text x="499.8" y="188.5" text-anchor="end" class="b" font-size="9.2" fill="#222">100000</text>
<path d="M502,302.6 H504" stroke="#222" stroke-width="1"/>
<path d="M502,276.6 H504" stroke="#222" stroke-width="1"/>
<path d="M502,250.6 H504" stroke="#222" stroke-width="1"/>
<path d="M502,224.6 H504" stroke="#222" stroke-width="1"/>
<path d="M502,198.6 H504" stroke="#222" stroke-width="1"/>
<path d="M547.2,315.6 V319.1" stroke="#222" stroke-width="1.2"/>
<text x="547.2" y="327.8" text-anchor="middle" class="b" font-size="9" fill="#222">600</text>
<path d="M604.4,315.6 V319.1" stroke="#222" stroke-width="1.2"/>
<text x="604.4" y="327.8" text-anchor="middle" class="b" font-size="9" fill="#222">700</text>
<path d="M661.6,315.6 V319.1" stroke="#222" stroke-width="1.2"/>
<text x="661.6" y="327.8" text-anchor="middle" class="b" font-size="9" fill="#222">800</text>
<path d="M518.6,315.6 V317.6" stroke="#222" stroke-width="1"/>
<path d="M575.8,315.6 V317.6" stroke="#222" stroke-width="1"/>
<path d="M633.0,315.6 V317.6" stroke="#222" stroke-width="1"/>
<text x="593" y="341.7" text-anchor="middle" class="b" font-size="9.2" fill="#222">Wavelength (nm)</text>
<text transform="translate(463.8,252) rotate(-90)" text-anchor="middle" class="b" font-size="9.2" fill="#222" stroke="#222" stroke-width="0.2">Intensity (a.u.)</text>
<path d="M510.5,192 H527.6" stroke="#111" stroke-width="1.8"/>
<text x="530" y="195.2" class="b" font-size="9" fill="#222">Solution</text>
<path d="M510.5,204 H527.6" stroke="#ee8a1e" stroke-width="1.8"/>
<text x="530" y="207.2" class="b" font-size="9" fill="#222">Film in electrolyte</text>
<text x="610" y="242.2" class="b" font-size="9" fill="#222">685 nm</text>
<text x="625.3" y="200.7" class="b" font-size="9" fill="#222">ZCIS<tspan font-size="4.7" dy="2.6" letter-spacing="0.45">MPA</tspan></text>
<path d="M596,255 V282.5" stroke="#222" stroke-width="1.25"/><path d="M592.5,277.2 L596,283.5 L599.5,277.2" stroke="#222" stroke-width="1.25" fill="none"/>
<text x="524.6" y="261.8" class="b" font-size="9.3" fill="#222">Down to</text>
<text x="524.6" y="273.7" class="b" font-size="9.3" fill="#222">1/3</text>
<text x="588.5" y="312.7" class="b" font-size="9" fill="#ee8a1e">x 1</text>
</g>
</g></svg></body></html>
